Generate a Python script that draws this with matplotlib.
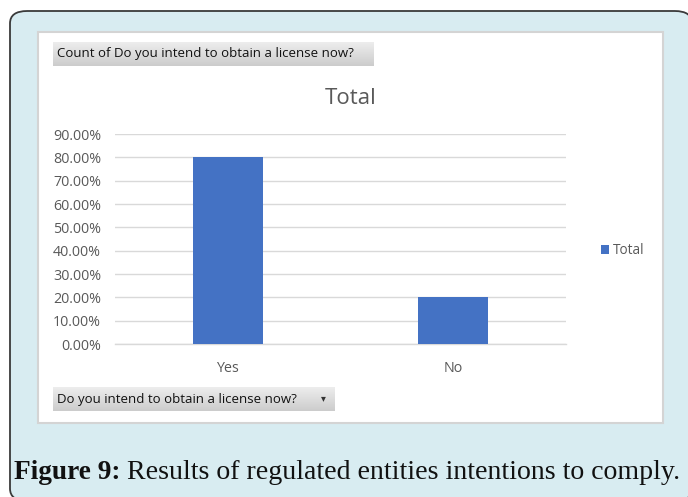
import numpy as np
import matplotlib
matplotlib.use("Agg")
import matplotlib.pyplot as plt
from matplotlib.patches import FancyBboxPatch, Rectangle
from matplotlib.ticker import FuncFormatter, MultipleLocator

# Data
categories = ["Yes", "No"]
shares = [0.80, 0.20]
series_name = "Total"
field_label = "Do you intend to obtain a license now?"
value_label = "Count of Do you intend to obtain a license now?"
caption_bold = "Figure 9:"
caption_text = " Results of regulated entities intentions to comply."

W, H = 688, 497
fig = plt.figure(figsize=(W / 100, H / 100), dpi=100)
fig.patch.set_facecolor("white")


def fx(x):
    return x / W


def fy(y):
    return 1 - y / H


# Outer light-blue panel with rounded border (runs off the right and bottom edges)
panel = FancyBboxPatch((fx(10), fy(501)), fx(692) - fx(10), fy(11) - fy(501),
                       boxstyle="round,pad=0,rounding_size=0.025",
                       transform=fig.transFigure, facecolor="#d8ecf1",
                       edgecolor="#3a3a3a", linewidth=1.3, zorder=0)
fig.add_artist(panel)

# White chart area
chart = Rectangle((fx(38), fy(423)), fx(663) - fx(38), fy(32) - fy(423),
                  transform=fig.transFigure, facecolor="white",
                  edgecolor="#d4d4d4", linewidth=1.5, zorder=1)
fig.add_artist(chart)

font = "Open Sans"
grey_text = "#595959"


def gray_button(x0, y0, x1, y1, label, arrow=False):
    bax = fig.add_axes([fx(x0), fy(y1), fx(x1) - fx(x0), fy(y0) - fy(y1)], zorder=3)
    grad = np.linspace(0.93, 0.80, 50).reshape(-1, 1)
    bax.imshow(np.dstack([grad, grad, grad]), aspect="auto", extent=[0, 1, 0, 1])
    bax.set_xlim(0, 1)
    bax.set_ylim(0, 1)
    bax.axis("off")
    fig.text(fx(x0 + 4), fy((y0 + y1) / 2), label, fontsize=9.5, family=font,
             color="#111111", va="center", ha="left", zorder=4)
    if arrow:
        fig.text(fx(x1 - 12), fy((y0 + y1) / 2 - 1), "\u25BE", fontsize=7,
                 family="DejaVu Sans", color="#333333", va="center", ha="center",
                 zorder=4)


gray_button(53, 42, 374, 66, value_label)
gray_button(53, 387, 335, 411, field_label, arrow=True)

# Bar chart
ax = fig.add_axes([fx(115), fy(344), fx(566) - fx(115), fy(134) - fy(344)], zorder=2)
ax.set_facecolor("none")
x = np.arange(len(categories))
ax.bar(x, shares, width=0.31, color="#4472c4", zorder=3, label=series_name)
ax.set_xlim(-0.5, len(categories) - 0.5)
ax.set_ylim(0, 0.9)
ax.yaxis.set_major_locator(MultipleLocator(0.1))
ax.yaxis.set_major_formatter(FuncFormatter(lambda v, p: f"{v * 100:.2f}%"))
ax.grid(axis="y", color="#d9d9d9", linewidth=1.0, zorder=0)
for s in ["top", "right", "left"]:
    ax.spines[s].set_visible(False)
ax.spines["bottom"].set_color("#d9d9d9")
ax.spines["bottom"].set_linewidth(1.0)
ax.tick_params(axis="both", length=0, labelsize=10.3, labelcolor=grey_text)
ax.tick_params(axis="y", pad=10)
ax.tick_params(axis="x", pad=12)
ax.set_xticks(x)
ax.set_xticklabels(categories)
for lbl in ax.get_xticklabels() + ax.get_yticklabels():
    lbl.set_family(font)

fig.text(fx(351), fy(98), series_name, fontsize=16, family=font, color=grey_text,
         ha="center", va="center", zorder=4)

leg = ax.legend(loc="center left", bbox_to_anchor=(fx(589), fy(251)),
                bbox_transform=fig.transFigure, frameon=False,
                handlelength=0.6, handleheight=0.6, handletextpad=0.25,
                prop={"family": font, "size": 9.8})
for t in leg.get_texts():
    t.set_color(grey_text)

# Caption
cap = fig.text(fx(14), fy(479), caption_bold, fontsize=19.7, family="Liberation Serif",
               weight="bold", color="#111111", va="baseline", ha="left", zorder=4)
fig.canvas.draw()
bb = cap.get_window_extent()
fig.text(bb.x1 / W, fy(479), caption_text, fontsize=20.1, family="Liberation Serif",
         color="#111111", va="baseline", ha="left", zorder=4)

fig.savefig("out.png", dpi=100, facecolor="white")
